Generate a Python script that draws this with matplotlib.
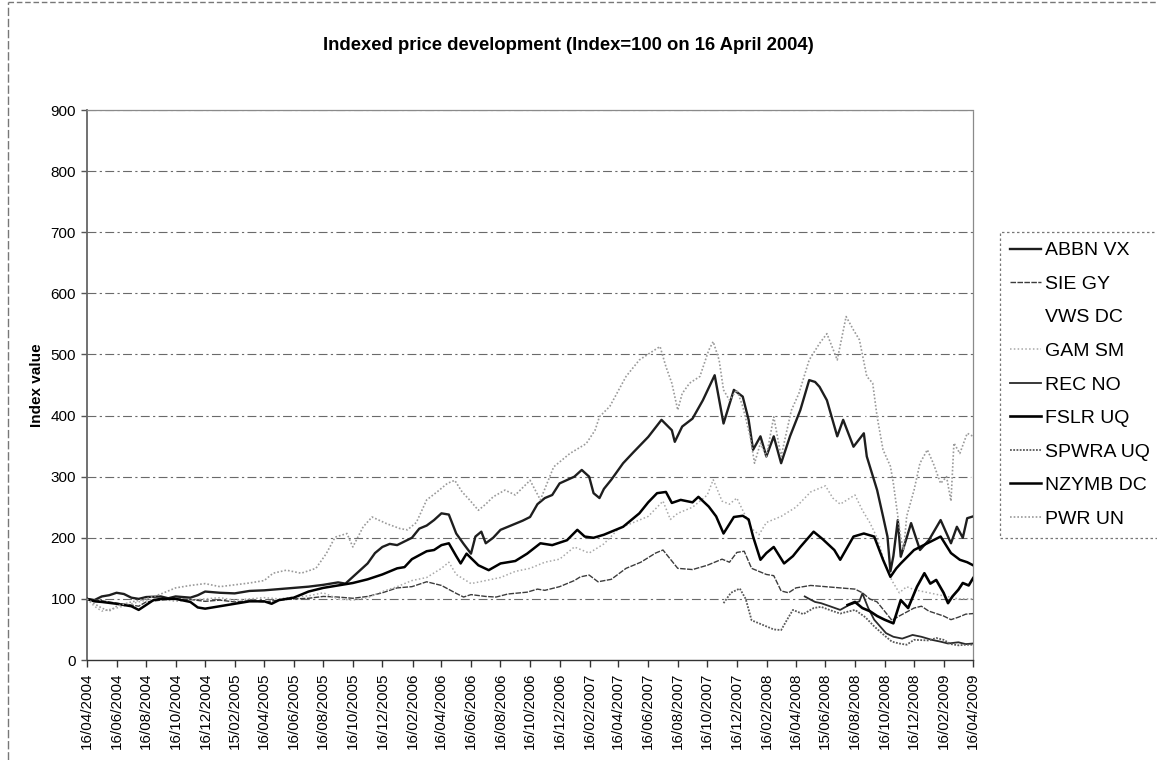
import numpy as np
import pandas as pd
import matplotlib
matplotlib.use("Agg")
import matplotlib.pyplot as plt
from matplotlib.lines import Line2D

plt.rcParams['font.family'] = ['Liberation Sans', 'DejaVu Sans']

START = pd.Timestamp('2004-04-16')

# (months since 16 April 2004, index value)
abbn = [(0,100),(0.5,98),(1,104),(1.5,106),(2,110),(2.5,108),(3,102),(3.5,100),(4,103),(5,104),(5.5,101),(6,104),(7,102),(7.5,106),(8,112),(9,110),(10,109),(11,113),(12,114),(13,116),(14,118),(15,120),(16,123),(17,127),(17.5,125),(18,136),(18.5,147),(19,158),(19.5,175),(20,185),(20.5,190),(21,188),(22,200),(22.5,215),(23,220),(23.5,229),(24,240),(24.5,238),(25,207),(25.5,190),(26,174),(26.3,202),(26.7,210),(27,191),(27.5,200),(28,213),(29,223),(29.5,228),(30,234),(30.5,255),(31,265),(31.5,270),(32,289),(33,300),(33.5,311),(34,300),(34.3,273),(34.7,265),(35,280),(35.5,295),(36.3,322),(37,340),(38,365),(38.9,393),(39.6,376),(39.8,357),(40.3,382),(41,395),(41.7,425),(42.5,466),(43.1,387),(43.8,442),(44.4,431),(44.8,393),(45.1,344),(45.6,366),(46,333),(46.5,366),(47,322),(47.6,366),(48.3,409),(48.9,458),(49.3,455),(49.6,447),(50.1,425),(50.8,366),(51.2,393),(51.9,349),(52.6,371),(52.8,333),(53.5,278),(53.9,235),(54.2,202),(54.4,145),(54.6,170),(54.9,229),(55.1,169),(55.5,200),(55.8,224),(56.4,180),(57,196),(57.8,229),(58.5,191),(58.9,218),(59.3,200),(59.6,232),(60,235)]

sie = [(0,100),(1,97),(2,93),(3,90),(3.5,88),(4,95),(5,98),(6,100),(7,99),(8,96),(9,98),(10,95),(11,97),(12,95),(13,98),(14,100),(15,101),(16,104),(17,103),(18,101),(19,104),(20,110),(21,118),(22,120),(23,128),(24,122),(25,109),(25.5,103),(26,107),(27,104),(27.7,103),(28.5,108),(29.8,111),(30.5,116),(31,114),(32,120),(33,130),(33.4,136),(34,139),(34.6,128),(35.5,132),(36.5,150),(37.5,160),(38.5,175),(39,180),(39.5,165),(40,150),(41,148),(42,155),(43,165),(43.5,160),(44,176),(44.5,178),(45,150),(45.5,145),(46,140),(46.5,138),(47,113),(47.5,110),(48,118),(49,122),(50,120),(51,118),(52,116),(52.5,110),(53,100),(53.5,95),(54,80),(54.5,65),(55,72),(56,85),(56.5,88),(57,80),(58,72),(58.5,66),(59,70),(59.5,75),(60,76)]

vws = [(0,100),(2,80),(4,70),(8,72),(12,80),(16,90),(20,120),(24,150),(28,160),(32,190),(36,230),(40,280),(42,330),(44,400),(46,380),(48,460),(50,540),(52,470),(54,250),(55,170),(57,230),(60,300)]

gam = [(0,100),(0.5,88),(1,80),(2,85),(3,92),(4,98),(5,100),(6,96),(7,98),(8,100),(9,102),(10,98),(11,100),(12,102),(13,100),(14,103),(15,105),(16,110),(17,100),(18,98),(19,102),(20,112),(21,120),(22,130),(23,135),(24,150),(24.5,160),(25,140),(26,125),(27,130),(28,135),(29,145),(30,150),(31,160),(32,165),(33,185),(34,175),(35,190),(36,215),(37,225),(38,235),(39,260),(39.5,230),(40,240),(41,250),(42,270),(42.4,295),(43,260),(43.5,255),(44,265),(45,215),(45.5,205),(46,225),(47,235),(48,250),(49,275),(50,285),(50.5,265),(51,255),(52,270),(52.5,245),(53,225),(53.5,200),(54,160),(54.5,130),(55,110),(55.5,120),(56,115),(57,110),(58,105),(59,100),(60,100)]

rec = [(48.6,104),(48.9,100),(49.3,95),(49.7,93),(50.3,88),(51,82),(51.6,90),(52.3,96),(52.5,109),(52.9,85),(53.3,66),(53.7,55),(54.1,44),(54.6,38),(55.2,35),(55.9,41),(56.5,38),(57.2,33),(57.8,30),(58.3,27),(59,29),(59.5,26),(60,27)]

fslr = [(51.5,90),(52,95),(52.5,85),(53,80),(53.5,72),(54,66),(54.6,60),(55.1,98),(55.6,85),(56.2,120),(56.7,142),(57.1,125),(57.5,131),(58,110),(58.3,93),(58.6,104),(59,115),(59.3,126),(59.7,122),(60,134)]

spwra = [(43.1,93),(43.6,110),(44.2,117),(44.6,100),(45,65),(45.5,60),(46,55),(46.5,50),(47,49),(47.5,70),(47.8,82),(48.5,75),(49.2,85),(49.7,87),(50.5,80),(51,76),(52,82),(52.7,70),(53.3,55),(54,40),(54.5,30),(55,27),(55.5,25),(56,33),(57,32),(57.5,36),(58,33),(58.5,26),(59,24),(59.5,25),(60,25)]

nzymb = [(0,100),(0.5,96),(1,95),(2,92),(3,88),(3.5,82),(4,90),(4.5,98),(5,100),(6,100),(7,95),(7.5,86),(8,84),(8.5,86),(9,88),(10,92),(11,96),(12,96),(12.5,92),(13,98),(14,102),(15,112),(16,118),(17,122),(18,126),(19,132),(20,140),(21,150),(21.5,152),(22,165),(23,178),(23.5,180),(24,188),(24.5,191),(25,170),(25.3,158),(25.7,174),(26.5,155),(27.2,147),(28,158),(29,162),(29.8,174),(30.7,191),(31.5,188),(32.5,196),(33.2,213),(33.7,202),(34.3,200),(35,205),(36.3,218),(37.4,240),(38,258),(38.6,273),(39.2,275),(39.6,257),(40.2,262),(41,258),(41.4,267),(42.1,251),(42.6,235),(43.1,207),(43.8,234),(44.4,236),(44.8,230),(45.1,202),(45.6,164),(46,175),(46.5,185),(47.2,158),(47.8,170),(48.3,185),(49.2,210),(49.8,198),(50.6,180),(51,164),(51.9,202),(52.6,207),(53.3,202),(53.9,164),(54.4,136),(54.8,150),(55.1,158),(56,180),(56.9,191),(57.8,202),(58.5,175),(59.1,164),(59.6,160),(60,155)]

pwr = [(0,100),(0.5,92),(1,85),(1.5,80),(2,88),(3,95),(4,100),(5,108),(6,118),(7,122),(8,125),(9,120),(10,123),(11,126),(12,130),(12.6,142),(13.5,147),(14.5,142),(15.5,150),(16.2,174),(16.8,201),(17.6,207),(18,185),(18.7,218),(19.3,234),(20.3,223),(21.2,215),(21.7,213),(22.3,225),(23,262),(23.7,275),(24.4,289),(24.9,294),(25.4,275),(25.9,262),(26.5,245),(27,255),(27.5,267),(28.3,278),(29,270),(30,294),(30.7,262),(31.6,316),(32.7,338),(33.8,354),(34.4,376),(34.7,398),(35.4,415),(36.5,464),(37.4,491),(38.1,502),(38.8,513),(39.2,480),(39.6,453),(40,409),(40.3,436),(40.8,453),(41.5,464),(42.1,507),(42.4,521),(42.8,491),(43.1,442),(43.5,425),(44,442),(44.4,415),(44.9,366),(45.2,322),(45.6,355),(46,333),(46.5,398),(47,333),(47.3,366),(47.7,409),(48.2,436),(48.9,491),(49.6,518),(50.1,534),(50.8,491),(51.4,562),(51.9,540),(52.3,524),(52.8,464),(53.2,453),(53.5,398),(53.9,344),(54.4,317),(54.6,289),(55.1,200),(55.3,180),(55.5,235),(56,278),(56.4,322),(56.9,344),(57.3,322),(57.8,289),(58.2,300),(58.5,260),(58.7,355),(59.1,338),(59.6,371),(60,366)]

series_names = ['ABBN VX', 'SIE GY', 'VWS DC', 'GAM SM', 'REC NO', 'FSLR UQ', 'SPWRA UQ', 'NZYMB DC', 'PWR UN']
series_data = [abbn, sie, vws, gam, rec, fslr, spwra, nzymb, pwr]

tick_labels = ['16/04/2004','16/06/2004','16/08/2004','16/10/2004','16/12/2004','15/02/2005',
               '16/04/2005','16/06/2005','16/08/2005','16/10/2005','16/12/2005','16/02/2006',
               '16/04/2006','16/06/2006','16/08/2006','16/10/2006','16/12/2006','16/02/2007',
               '16/04/2007','16/06/2007','16/08/2007','16/10/2007','16/12/2007','16/02/2008',
               '16/04/2008','15/06/2008','16/08/2008','16/10/2008','16/12/2008','16/02/2009',
               '16/04/2009']
y_ticks = [0, 100, 200, 300, 400, 500, 600, 700, 800, 900]

styles = {
    'ABBN VX':  dict(color='#1e1e1e', lw=1.7, ls='-'),
    'SIE GY':   dict(color='#3c3c3c', lw=1.0, ls=(0, (4, 1))),
    'VWS DC':   dict(color='#ffffff', lw=1.0, ls='-'),
    'GAM SM':   dict(color='#a8a8a8', lw=1.1, ls=(0, (1, 1.5))),
    'REC NO':   dict(color='#2a2a2a', lw=1.3, ls='-'),
    'FSLR UQ':  dict(color='#000000', lw=1.9, ls='-'),
    'SPWRA UQ': dict(color='#5a5a5a', lw=1.3, ls=(0, (1, 0.8))),
    'NZYMB DC': dict(color='#000000', lw=1.8, ls='-'),
    'PWR UN':   dict(color='#9a9a9a', lw=1.2, ls=(0, (1, 1.2))),
}

def to_dates(t):
    return START + pd.to_timedelta(np.asarray(t, dtype=float) * 30.4375, unit='D')

fig = plt.figure(figsize=(11.57, 7.60), dpi=100)
ax = fig.add_axes([87/1157, 1-660/760, (973-87)/1157, (660-110)/760])

for yv in y_ticks[1:]:
    ax.axhline(yv, color='#6a6a6a', lw=0.8, ls=(0, (8, 3, 2, 3)), zorder=1)

handles = []
for name, data in zip(series_names, series_data):
    t, v = zip(*data)
    st = styles[name]
    z = 1.5 if name == 'VWS DC' else 3
    line, = ax.plot(to_dates(t), v, color=st['color'], lw=st['lw'], ls=st['ls'], zorder=z,
                    label=name)
    handles.append(line)

tick_dates = pd.to_datetime(tick_labels, format='%d/%m/%Y')
ax.set_xticks(tick_dates)
ax.set_xticklabels(tick_labels, rotation=90, fontsize=11)
ax.set_xlim(START, pd.Timestamp('2009-04-16'))
ax.set_ylim(0, 900)
ax.set_yticks(y_ticks)
ax.set_yticklabels([str(y) for y in y_ticks], fontsize=11)
ax.tick_params(axis='x', direction='out', length=5, width=1, color='#333333', pad=4)
ax.tick_params(axis='y', direction='out', length=4, width=1, color='#555555', pad=4)

for s in ['top', 'right']:
    ax.spines[s].set_color('#8a8a8a')
    ax.spines[s].set_linestyle((0, (1, 1)))
    ax.spines[s].set_linewidth(0.9)
ax.spines['left'].set_color('#666666')
ax.spines['left'].set_linewidth(1.3)
ax.spines['bottom'].set_color('#333333')
ax.spines['bottom'].set_linewidth(1.0)

fig.text(568/1157, 1-45/760, 'Indexed price development (Index=100 on 16 April 2004)',
         ha='center', va='center', fontsize=13.3, fontweight='bold')
fig.text(37/1157, 1-385/760, 'Index value', rotation=90, ha='center', va='center',
         fontsize=11, fontweight='bold')

leg = fig.legend(handles=handles, loc='upper left', bbox_to_anchor=(1000/1157, 1-232/760),
                 fontsize=14, frameon=True, fancybox=False, handlelength=1.6,
                 handletextpad=0.2, labelspacing=0.82, borderaxespad=0, borderpad=0.5)
fr = leg.get_frame()
fr.set_edgecolor('#555555')
fr.set_linewidth(0.9)
fr.set_linestyle((0, (2, 2)))

fig.add_artist(Line2D([8/1157, 1], [1-2/760, 1-2/760], transform=fig.transFigure,
                      color='#777777', lw=1, ls=(0, (4, 2))))
fig.add_artist(Line2D([8/1157, 8/1157], [0, 1-2/760], transform=fig.transFigure,
                      color='#777777', lw=1, ls=(0, (6, 2))))

fig.savefig('out.png', dpi=100)
